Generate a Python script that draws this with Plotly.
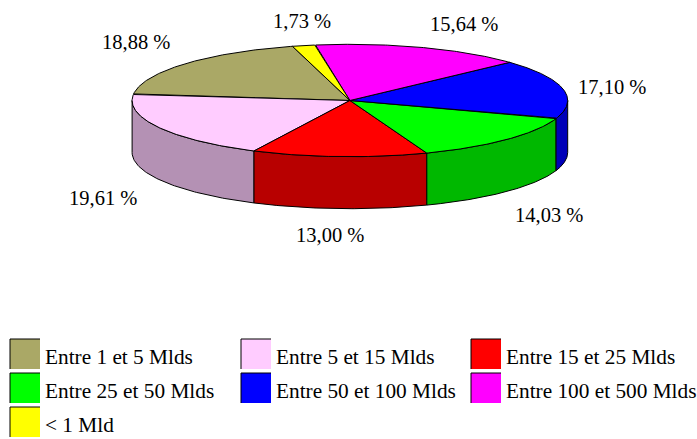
import numpy as np
import plotly.graph_objects as go

# --- data ---
categories = ["Entre 1 et 5 Mlds", "Entre 5 et 15 Mlds", "Entre 15 et 25 Mlds",
              "Entre 25 et 50 Mlds", "Entre 50 et 100 Mlds", "Entre 100 et 500 Mlds", "< 1 Mld"]
values = [18.88, 19.61, 13.00, 14.03, 17.10, 15.64, 1.73]

# --- styles ---
top_colors = ["#AAA866", "#FFCCFF", "#FF0000", "#00FF00", "#0000FF", "#FF00FF", "#FFFF00"]
side_colors = ["#7C7948", "#B491B4", "#B80000", "#00B800", "#0000B8", "#B800B8", "#B8B800"]

# --- layout (pixels) ---
W, H = 697, 439
CX, CY, RX, RY, DEPTH = 349.9, 100.5, 217.8, 56.2, 52
START_DEG = 105.3
FONT = "Liberation Serif"
label_xy = [(136, 42), (103, 198), (330, 235), (549, 215), (612, 87), (464, 24), (302, 21)]
legend_swatch_x = [10, 241, 471]
legend_swatch_y = [339, 373, 407]
SW = 30

def ex(t):
    return CX + RX * np.cos(np.radians(t))

def ey(t, drop=0.0):
    return CY - RY * np.sin(np.radians(t)) + drop

shares = np.array(values) / sum(values) * 360.0
starts = START_DEG + np.concatenate([[0.0], np.cumsum(shares)[:-1]])
ends = starts + shares

fig = go.Figure()

def add_poly(xs, ys, color):
    fig.add_trace(go.Scatter(x=xs, y=ys, mode="lines", fill="toself", fillcolor=color,
                             line=dict(color="black", width=1), hoverinfo="skip",
                             showlegend=False))

# Outer wall: only the part of each slice on the near half (180..360 deg) shows.
for k in range(len(values)):
    for turn in (0, 360):
        a = max(starts[k] + turn, 180.0)
        b = min(ends[k] + turn, 360.0)
        if b > a:
            t = np.linspace(a, b, 80)
            xs = np.concatenate([ex(t), ex(t[::-1]), [ex(t[0])]])
            ys = np.concatenate([ey(t), ey(t[::-1], DEPTH), [ey(t[0])]])
            add_poly(xs, ys, side_colors[k])

# Top face
for k in range(len(values)):
    t = np.linspace(starts[k], ends[k], 120)
    xs = np.concatenate([[CX], ex(t), [CX]])
    ys = np.concatenate([[CY], ey(t), [CY]])
    add_poly(xs, ys, top_colors[k])

annotations = []
for v, (lx, ly) in zip(values, label_xy):
    annotations.append(dict(x=lx, y=ly, xref="x", yref="y", showarrow=False,
                            text=f"{v:.2f}".replace(".", ",") + " %",
                            font=dict(family=FONT, size=20.5, color="black"),
                            xanchor="center", yanchor="middle"))

shapes = []
for i, (name, color) in enumerate(zip(categories, top_colors)):
    sx = legend_swatch_x[i % 3]
    sy = legend_swatch_y[i // 3]
    shapes.append(dict(type="rect", xref="x", yref="y", x0=sx, x1=sx + SW, y0=sy, y1=sy + SW,
                       fillcolor=color, line=dict(width=0), layer="above"))
    shapes.append(dict(type="path", xref="x", yref="y",
                       path=f"M {sx} {sy + SW} L {sx} {sy} L {sx + SW} {sy}",
                       line=dict(color="black", width=1), layer="above"))
    annotations.append(dict(x=sx + SW + 3, y=sy + SW / 2 + 3, xref="x", yref="y", showarrow=False,
                            text=name, font=dict(family=FONT, size=21.3, color="black"),
                            xanchor="left", yanchor="middle"))

fig.update_layout(
    width=W, height=H, margin=dict(l=0, r=0, t=0, b=0, pad=0),
    paper_bgcolor="white", plot_bgcolor="white", showlegend=False,
    xaxis=dict(range=[0, W], visible=False, fixedrange=True),
    yaxis=dict(range=[H, 0], visible=False, fixedrange=True),
    annotations=annotations, shapes=shapes,
)
fig.write_html("out.html", config={"displayModeBar": False, "responsive": False},
               post_script="document.body.style.margin='0';document.documentElement.style.overflow='hidden';")
